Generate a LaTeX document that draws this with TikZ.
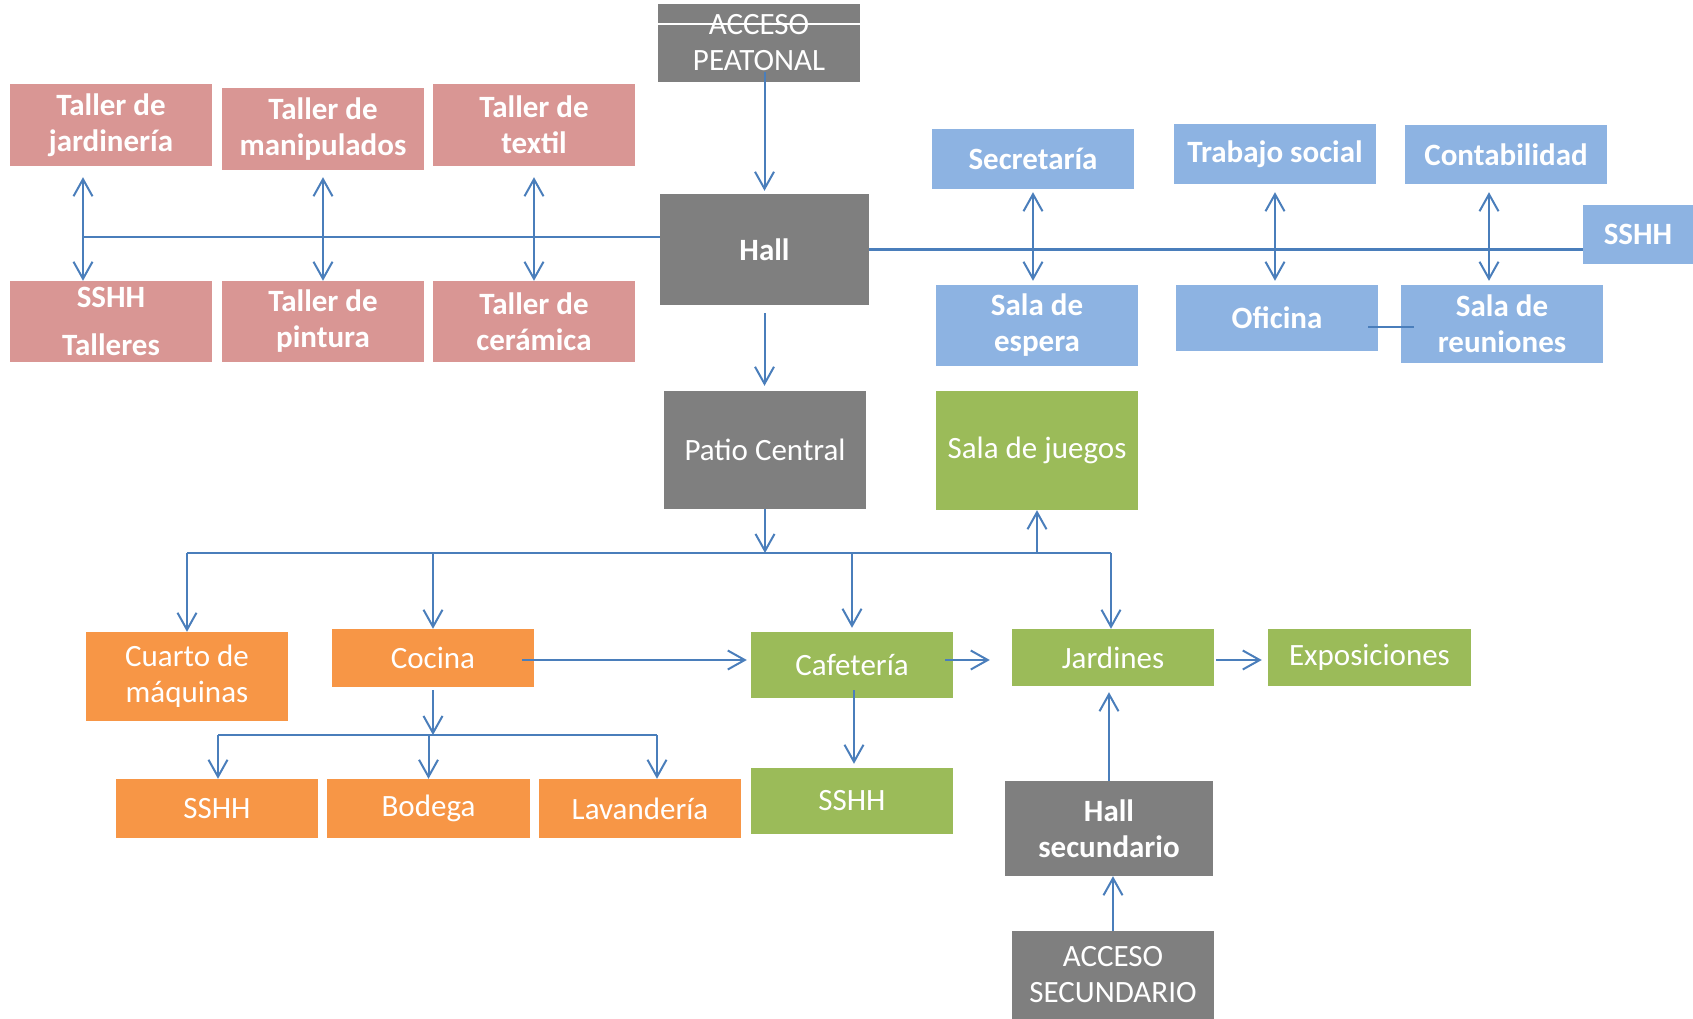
\documentclass[tikz,border=0pt]{standalone}
\usepackage{fontspec}
\setmainfont{Carlito}
\usetikzlibrary{arrows.meta}
\usetikzlibrary{calc}
\definecolor{linkblue}{HTML}{4A7EBB}
\definecolor{tallerpink}{HTML}{D99694}
\definecolor{oficinablue}{HTML}{8DB3E2}
\definecolor{accesogray}{HTML}{7F7F7F}
\definecolor{servicioorange}{HTML}{F79646}
\definecolor{verdegreen}{HTML}{9BBB59}
\tikzset{>={Straight Barb[length=17pt, width=19pt]}}
\tikzset{
  room/.style={minimum width=202pt, inner sep=0pt, align=center, text=white, font=\fontsize{31}{36}\selectfont},
  boldroom/.style={room, font=\bfseries\fontsize{31}{36}\selectfont},
  pinkroom/.style={boldroom, fill=tallerpink},
  blueroom/.style={boldroom, fill=oficinablue},
  grayroom/.style={room, fill=accesogray},
  hallroom/.style={boldroom, fill=accesogray},
  orangeroom/.style={room, fill=servicioorange},
  greenroom/.style={room, fill=verdegreen},
  flow/.style={->, linkblue, line width=2pt},
  dflow/.style={<->, linkblue, line width=2pt},
  bus/.style={linkblue, line width=2.5pt}
}

\begin{document}
\begin{tikzpicture}[x=1pt, y=-1pt]
            \useasboundingbox (0,0) rectangle (1693,1019);
            \node[pinkroom, minimum height=82pt] (tjard) at (111,125) {Taller de\\jardinería};
            \node[pinkroom, minimum height=82pt] (tmanip) at (323,129) {Taller de\\manipulados};
            \node[pinkroom, minimum height=82pt] (ttext) at (534,125) {Taller de\\textil};
            \node[pinkroom, minimum height=81pt] (sshhtall) at (111,321.5) {SSHH\\[12pt]Talleres};
            \node[pinkroom, minimum height=81pt] (tpint) at (323,321.5) {Taller de\\pintura};
            \node[pinkroom, minimum height=81pt] (tceram) at (534,321.5) {Taller de\\cerámica};
            \node[grayroom, minimum height=78pt] (accpeat) at (759,43) {ACCESO\\PEATONAL};
            \node[hallroom, minimum width=209pt, minimum height=111pt] (hall) at (764.5,249.5) {Hall};
            \node[grayroom, minimum height=118pt] (patio) at (765,450) {Patio Central};
            \node[blueroom, minimum height=60pt] (secr) at (1033,159) {Secretaría};
            \node[blueroom, minimum height=60pt] (trab) at (1275,154) {Trabajo social};
            \node[blueroom, minimum height=59pt] (conta) at (1506,154.5) {Contabilidad};
            \node[blueroom, minimum width=110pt, minimum height=59pt] (sshhr) at (1638,234.5) {SSHH};
            \node[blueroom, minimum height=81pt] (espera) at (1037,325.5) {Sala de\\espera};
            \node[blueroom, minimum height=66pt] (ofic) at (1277,318) {Oficina};
            \node[blueroom, minimum height=78pt] (reun) at (1502,324) {Sala de\\reuniones};
            \node[orangeroom, minimum height=89pt] (cuarto) at (187,676.5) {Cuarto de\\máquinas};
            \node[orangeroom, minimum height=58pt] (cocina) at (433,658) {Cocina};
            \node[orangeroom, minimum height=59pt] (sshho) at (217,808.5) {SSHH};
            \node[orangeroom, minimum height=59pt, minimum width=203pt] (bodega) at (428.5,808.5) {Bodega};
            \node[orangeroom, minimum height=59pt] (lavand) at (640,808.5) {Lavandería};
            \node[greenroom, minimum height=119pt] (juegos) at (1037,450.5) {Sala de juegos};
            \node[greenroom, minimum height=66pt] (cafe) at (852,665) {Cafetería};
            \node[greenroom, minimum height=66pt] (sshhg) at (852,801) {SSHH};
            \node[greenroom, minimum height=57pt] (jard) at (1113,657.5) {Jardines};
            \node[greenroom, minimum height=57pt, minimum width=203pt] (expo) at (1369.5,657.5) {Exposiciones};
            \node[hallroom, minimum width=208pt, minimum height=95pt] (hallsec) at (1109,828.5) {Hall\\secundario};
            \node[grayroom, minimum height=88pt] (accsec) at (1113,975) {ACCESO\\SECUNDARIO};
            \draw[white, line width=1.5pt] ($(accpeat.north west)+(0,20)$) -- ($(accpeat.north east)+(0,20)$);
            \draw[flow, shorten <=-10pt, shorten >=3pt] (accpeat.south -| hall.north) -- (hall.north);
            \draw[flow, shorten <=8pt, shorten >=5pt] (hall.south) -- (hall.south |- patio.north);
            \coordinate (tbus) at (83,237);
            \draw[bus] (tbus) -- (tbus -| hall.west);
            \draw[dflow, shorten <=11pt] (tjard.south -| tbus) -- (sshhtall.north -| tbus);
            \draw[dflow, shorten <=7pt] (tmanip.south) -- (tmanip.south |- tpint.north);
            \draw[dflow, shorten <=11pt] (ttext.south) -- (ttext.south |- tceram.north);
            \draw[bus] (hall.east) -- (hall.east -| sshhr.west);
            \draw[dflow, shorten <=3pt, shorten >=4pt] (secr.south) -- (secr.south |- espera.north);
            \draw[dflow, shorten <=8pt, shorten >=4pt] (trab.south) -- (trab.south |- ofic.north);
            \draw[dflow, shorten <=8pt, shorten >=4pt] ($(conta.south)+(-17,0)$) -- ($(conta.south |- reun.north)+(-17,0)$);
            \draw[bus] ($(ofic.east)+(-10,9)$) -- ($(reun.west)+(13,3)$);
            \coordinate (pbusw) at (187,553);
            \coordinate (pbuse) at (1111,553);
            \draw[bus] (pbusw) -- (pbuse);
            \draw[flow] (patio.south) -- (patio.south |- pbusw);
            \draw[flow] (pbusw) -- (cuarto.north);
            \draw[flow] (cocina.north |- pbusw) -- (cocina.north);
            \draw[flow, shorten >=4pt] (cafe.north |- pbusw) -- (cafe.north);
            \draw[flow] (pbuse) -- (pbuse |- jard.north);
            \draw[flow] (juegos.south |- pbusw) -- (juegos.south);
            \draw[flow, shorten <=-12pt] ($(cocina.east)+(0,2)$) -- ($(cafe.west)+(-4,-5)$);
            \coordinate (obusw) at (218,735);
            \coordinate (obuse) at (657,735);
            \draw[bus] (obusw) -- (obuse);
            \draw[flow, shorten <=3pt] (cocina.south) -- (cocina.south |- obusw);
            \draw[flow] (obusw) -- (obusw |- sshho.north);
            \draw[flow] (bodega.north |- obusw) -- (bodega.north);
            \draw[flow] (obuse) -- (obuse |- lavand.north);
            \draw[flow, shorten <=-8pt] ($(cafe.east)+(0,-5)$) -- ($(jard.west)+(-22,2.5)$);
            \draw[flow] ($(jard.east)+(2,2.5)$) -- ($(expo.west)+(-6,2.5)$);
            \draw[flow, shorten <=-8pt, shorten >=4pt] ($(cafe.south)+(2,0)$) -- ($(sshhg.north)+(2,0)$);
            \draw[flow, shorten >=6pt] (hallsec.north) -- (hallsec.north |- jard.south);
            \draw[flow] (accsec.north) -- (accsec.north |- hallsec.south);
        \end{tikzpicture}
\end{document}
